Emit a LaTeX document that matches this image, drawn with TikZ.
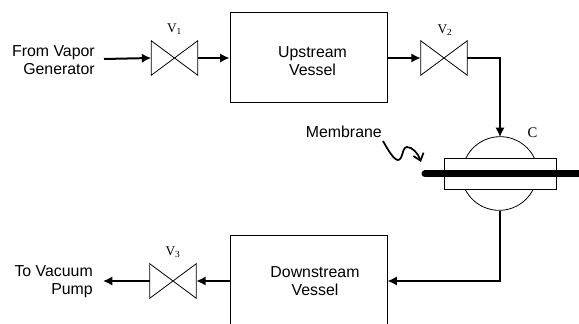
\documentclass[tikz,border=0pt]{standalone}
\usepackage{fontspec}
\setmainfont{Liberation Serif}
\setsansfont{Liberation Sans}
\usetikzlibrary{arrows.meta}
\tikzset{
  x=0.75pt,y=-0.75pt,
  vessel/.style={draw,line width=0.75pt,minimum width=117.75pt,minimum height=67.5pt,inner sep=0pt},
  lab/.style={inner sep=0pt,align=right,font=\sffamily\fontsize{11.9}{13.5}\selectfont},
  vesseltext/.style={inner sep=0pt,align=center,font=\sffamily\fontsize{11.9}{13.5}\selectfont},
  vlab/.style={inner sep=0pt,font=\fontsize{10}{11}\selectfont},
  pipe/.style={line width=1.5pt,-{Latex[length=7pt,width=7pt]}},
  thin line/.style={line width=0.6pt},
  valvept/.style={inner sep=0pt,minimum width=34.5pt,minimum height=25.5pt}
}
\begin{document}
\begin{tikzpicture}
\useasboundingbox (0,0) rectangle (579,324);
\begin{scope}
\clip (0,0) rectangle (579,324);
\node[vessel] (up) at (308.5,58) {};
\node[vessel] (down) at (308.5,281) {};
\node[vesseltext] (uptext) at (312.5,61) {Upstream\\Vessel};
\node[vesseltext] (downtext) at (315,281) {Downstream\\Vessel};
\node[valvept] (v1) at (174.5,58) {};
\node[valvept] (v2) at (444,58) {};
\node[valvept] (v3) at (173,281) {};
\foreach \v in {v1,v2,v3}{
  \draw[thin line,line join=miter] (\v.south west) -- (\v.north east) -- (\v.south east) -- (\v.north west) -- cycle;
}
\node[lab,anchor=east] (from) at (95,60) {From Vapor\\Generator};
\node[lab,anchor=east] (to) at (93,282) {To Vacuum\\Pump};
\node[vlab] (l1) at (174.5,29) {V\textsubscript{1}};
\node[vlab] (l2) at (445,30) {V\textsubscript{2}};
\node[vlab] (l3) at (173,252) {V\textsubscript{3}};
\node[vlab,font=\fontsize{11}{13}\selectfont] (lc) at (532.5,133) {C};
\node[lab,anchor=east] (mem) at (382,132) {Membrane};
\coordinate (in) at (104,59);
\coordinate (out) at (103,281);
\coordinate (cup) at (500,137);
\coordinate (cdn) at (500,211);
\coordinate (mstart) at (383,141);
\coordinate (mend) at (421,162);
% cell
\draw[thin line] (466,158) arc[start angle=206,end angle=334,radius=38];
\draw[thin line] (465,189) arc[start angle=154,end angle=26,radius=38];
\node[draw,line width=0.6pt,fill=white,minimum width=84pt,minimum height=23.25pt,inner sep=0pt] (cell) at (500,173.5) {};
\draw[line width=5.25pt,line cap=round] (425,174) -- (590,174);
% pipes
\draw[pipe] (in) -- (v1.west);
\draw[pipe] (v1.east) -- (up.west);
\draw[pipe] (up.east) -- (v2.west);
\draw[pipe] (v2.east) -| (cup);
\draw[pipe] (cdn) |- (down.east);
\draw[pipe] (down.west) -- (v3.east);
\draw[pipe] (v3.west) -- (out);
\draw[line width=1.3pt,-{Straight Barb[length=5pt,width=8pt]}] (mstart) .. controls (388,150) and (394,160) .. (398,160) .. controls (403,160) and (402,147) .. (407,147) .. controls (412,147) and (418,153) .. (mend);
\end{scope}
\end{tikzpicture}
\end{document}
